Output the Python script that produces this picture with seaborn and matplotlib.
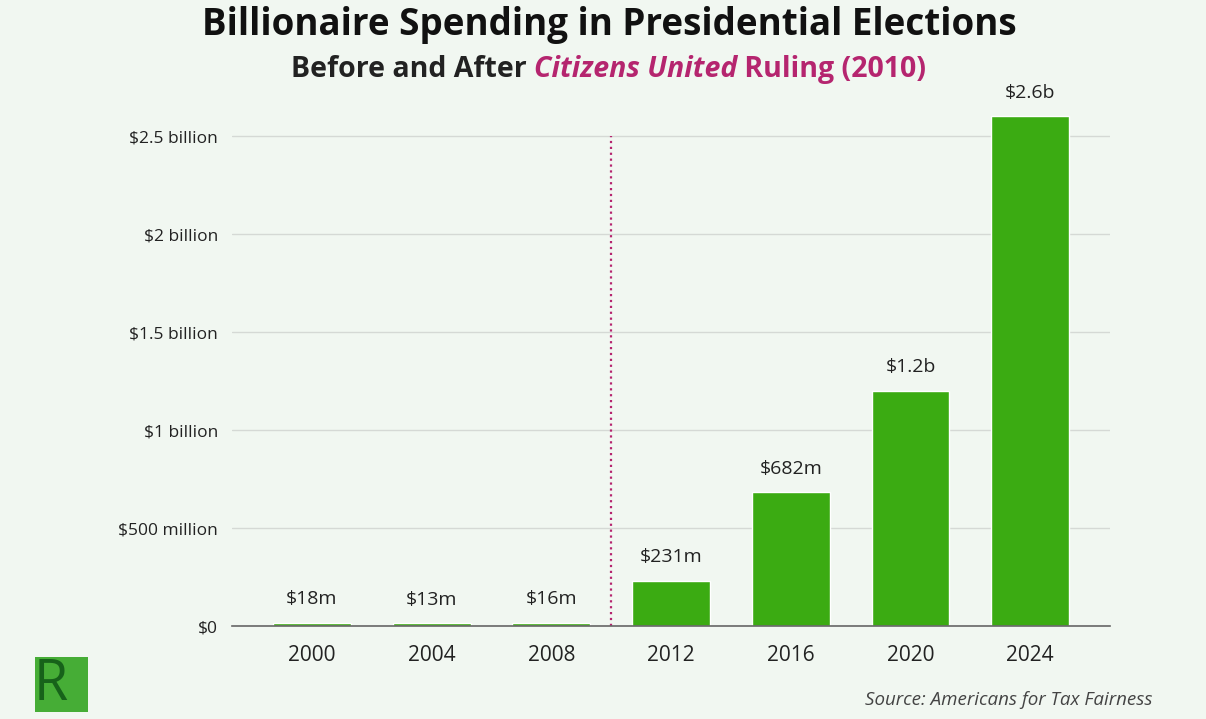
import matplotlib
matplotlib.use('Agg')
import matplotlib.pyplot as plt
import seaborn as sns
import pandas as pd
from matplotlib.patches import Rectangle

# data (spending in $ billions)
years = ['2000', '2004', '2008', '2012', '2016', '2020', '2024']
spending = [0.018, 0.013, 0.016, 0.231, 0.682, 1.2, 2.6]
bar_labels = ['$18m', '$13m', '$16m', '$231m', '$682m', '$1.2b', '$2.6b']
yticks = [0, 0.5, 1, 1.5, 2, 2.5]
ytick_labels = ['$0', '$500 million', '$1 billion', '$1.5 billion', '$2 billion', '$2.5 billion']

BG = '#f1f7f1'
GREEN = '#3bab12'
MAGENTA = '#b5256f'
TEXT = '#222222'

sns.set_theme(style='white')
plt.rcParams['font.family'] = ['Open Sans', 'DejaVu Sans']

df = pd.DataFrame({'year': years, 'spending': spending})

fig = plt.figure(figsize=(12.06, 7.19), dpi=100, facecolor=BG)
ax = fig.add_axes([0.1924, 0.1293, 0.728, 0.7497])
ax.set_facecolor(BG)

sns.barplot(data=df, x='year', y='spending', color=GREEN, width=0.65,
            saturation=1, ax=ax, zorder=3)

ax.set_xlim(-0.667, 6.667)
ax.set_ylim(0, 2.75)
ax.set_yticks(yticks)
ax.set_yticklabels(ytick_labels, fontsize=12.5, color=TEXT)
ax.tick_params(axis='x', labelsize=15, colors=TEXT, length=0, pad=14)
ax.tick_params(axis='y', length=0, pad=10)
ax.set_xlabel('')
ax.set_ylabel('')
ax.grid(axis='y', color='#d5d9d5', linewidth=1, zorder=0)
for s in ['top', 'right', 'left']:
    ax.spines[s].set_visible(False)
ax.spines['bottom'].set_color('#666666')
ax.spines['bottom'].set_linewidth(1.2)
ax.spines['bottom'].set_zorder(4)

for i, (v, lab) in enumerate(zip(spending, bar_labels)):
    ax.annotate(lab, (i, v), xytext=(0, 17), textcoords='offset points',
                ha='center', va='center', fontsize=14, color=TEXT)

# Citizens United divider
ax.plot([2.5, 2.5], [0, 2.5], linestyle=':', color=MAGENTA, linewidth=1.6, zorder=2)

# titles
fig.text(0.5055, 0.965, 'Billionaire Spending in Presidential Elections',
         ha='center', va='center', fontsize=26.5, fontweight='bold', color='#111111')

renderer = fig.canvas.get_renderer()
parts = [('Before and After ', TEXT, 'normal'),
         ('Citizens United', MAGENTA, 'italic'),
         (' Ruling (2010)', MAGENTA, 'normal')]
texts = []
x = 0.0
for s, c, st in parts:
    t = fig.text(x, 0.904, s, ha='left', va='center', fontsize=20.5,
                 fontweight='bold', style=st, color=c)
    bb = t.get_window_extent(renderer)
    x += bb.width / fig.bbox.width
    texts.append(t)
start = 0.5045 - x / 2
for t in texts:
    t.set_x(t.get_position()[0] + start)

fig.text(0.9555, 0.026, 'Source: Americans for Tax Fairness', ha='right', va='center',
         fontsize=13.5, style='italic', color='#444444')

# logo
fig.patches.append(Rectangle((0.029, 0.010), 0.044, 0.076, transform=fig.transFigure,
                             facecolor='#46ad36', edgecolor='none'))
fig.text(0.028, 0.046, 'R', ha='left', va='center', fontsize=40,
         color='#17621a', fontweight='normal')

fig.savefig('out.png', dpi=100, facecolor=BG)
